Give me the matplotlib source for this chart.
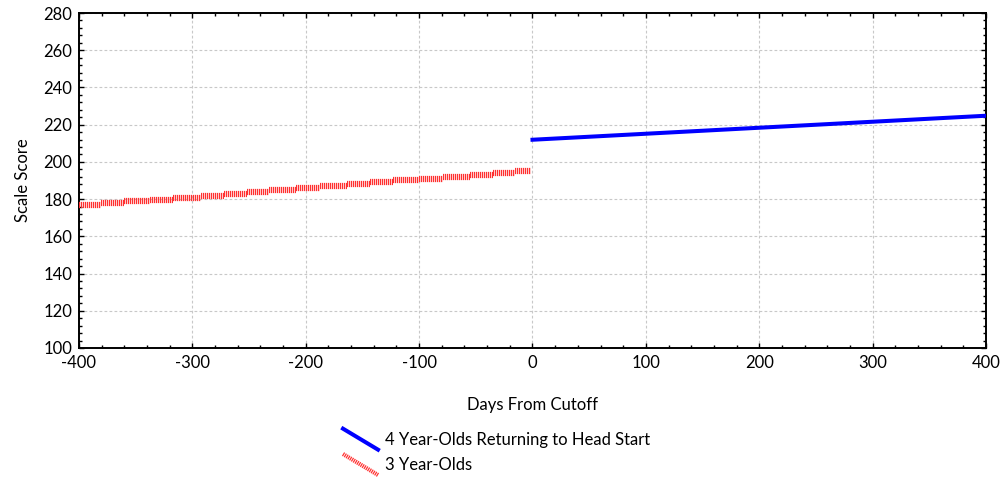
import matplotlib
matplotlib.use("Agg")
import matplotlib.pyplot as plt
from matplotlib.lines import Line2D
from matplotlib.legend_handler import HandlerLine2D
from matplotlib.ticker import MultipleLocator

plt.rcParams['font.family'] = ['Lato', 'DejaVu Sans']
plt.rcParams['axes.unicode_minus'] = False

# 3 year-olds: step edges (days) and levels (scale score)
edges3 = [-400, -381, -360, -337, -317, -292, -272, -252, -232, -209, -187,
          -164, -143, -123, -100, -79, -55, -35, -15, -1]
levels3 = [176.7, 177.8, 178.8, 179.7, 180.8, 181.8, 182.7, 183.7, 184.7, 186.0,
           187.0, 188.1, 189.0, 190.1, 191.0, 192.0, 193.0, 194.0, 195.1]

# 4 year-olds returning to Head Start
days4 = [0, 400]
score4 = [211.9, 224.8]

lab4 = "4 Year-Olds Returning to Head Start"
lab3 = "3 Year-Olds"

RED = '#ff3030'
BLUE = '#0000ff'
FS = 12


class DiagHandler(HandlerLine2D):
    def create_artists(self, legend, orig, xd, yd, w, h, fontsize, trans):
        ln = Line2D([-xd, -xd + w], [h * 1.4, -h * 0.4])
        self.update_prop(ln, orig, legend)
        ln.set_transform(trans)
        return [ln]


fig = plt.figure(figsize=(10.03, 4.8), dpi=100)
ax = fig.add_axes([79 / 1003, 1 - 348 / 480, 907 / 1003, 335 / 480])

ax.hlines(levels3, edges3[:-1], edges3[1:], colors=RED, lw=4.5,
          linestyles=[(0, (0.2, 0.12))], zorder=3)
blue, = ax.plot(days4, score4, color=BLUE, lw=2.9, label=lab4, zorder=4)
red = Line2D([], [], color=RED, lw=3.0, dashes=(0.3, 0.2), label=lab3)

ax.set_xlim(-400, 400)
ax.set_ylim(100, 280)
ax.xaxis.set_major_locator(MultipleLocator(100))
ax.xaxis.set_minor_locator(MultipleLocator(20))
ax.yaxis.set_major_locator(MultipleLocator(20))
ax.yaxis.set_minor_locator(MultipleLocator(4))
ax.tick_params(which='both', direction='in', top=True, right=True,
               width=1.0, labelsize=FS, colors='black')
ax.tick_params(which='major', length=3.5, pad=5)
ax.tick_params(which='minor', length=2.5)
ax.grid(True, which='major', color='#c8c8c8', ls=(0, (2.5, 2)), lw=0.8)
for s in ax.spines.values():
    s.set_linewidth(1.4)

ax.set_xlabel("Days From Cutoff", fontsize=FS, labelpad=19)
ax.set_ylabel("Scale Score", fontsize=FS, labelpad=9)

fig.legend(handles=[blue, red], loc='upper left',
           bbox_to_anchor=(343 / 1003, 1 - 432 / 480), frameon=False,
           fontsize=FS, handlelength=2.1, handletextpad=0.42,
           labelspacing=0.56, borderpad=0, borderaxespad=0,
           handler_map={Line2D: DiagHandler()})

fig.savefig("out.png", dpi=100)
